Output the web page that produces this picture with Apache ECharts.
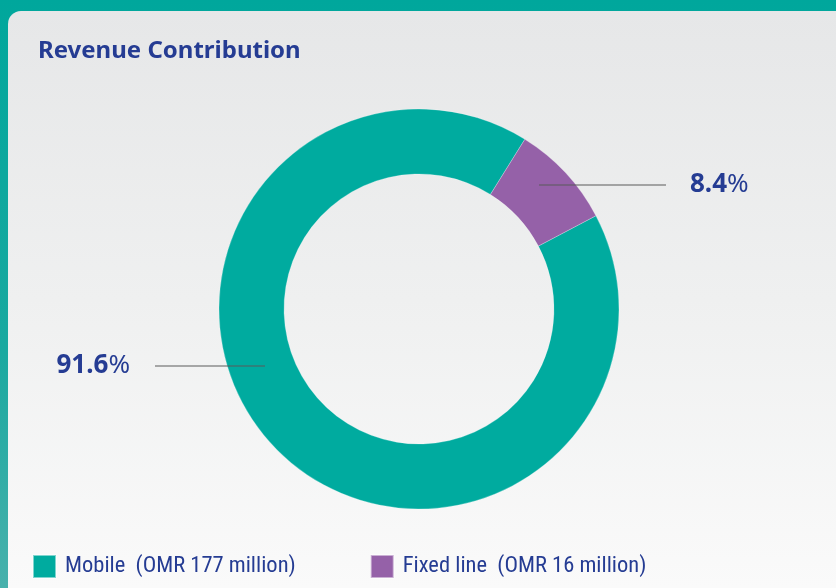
<!DOCTYPE html>
<html>
<head>
<meta charset="utf-8">
<script src="https://cdn.jsdelivr.net/npm/echarts@6/dist/echarts.min.js"></script>
<style>
  html, body { margin: 0; padding: 0; width: 836px; height: 588px; overflow: hidden; }
  body { background: linear-gradient(to bottom, #00a79c 0%, #1aa9a0 60%, #48b1ac 100%); position: relative; }
  #card { position: absolute; left: 8px; top: 11px; right: 0; bottom: 0;
          border-top-left-radius: 13px;
          background: linear-gradient(to bottom, #e6e7e8 0%, #eff0f0 50%, #fafafa 100%); }
  #chart { position: absolute; left: 0; top: 0; width: 836px; height: 588px; }
</style>
</head>
<body>
<div id="card"></div>
<div id="chart"></div>
<script>
const titleText = 'Revenue Contribution';
const categories = ['Mobile', 'Fixed line'];
const shares = [91.6, 8.4];
const legendLabels = ['Mobile  (OMR 177 million)', 'Fixed line  (OMR 16 million)'];
const colors = ['#00ab9f', '#9561a8'];

const textBlue = '#253c93';
const fontFam = '"Noto Sans", "Open Sans", sans-serif';

const chart = echarts.init(document.getElementById('chart'), null, { renderer: 'canvas' });

const data = categories.map((c, i) => ({
  name: legendLabels[i],
  value: shares[i],
  itemStyle: { color: colors[i] }
}));
const overlayData = categories.map((c, i) => ({
  name: legendLabels[i],
  value: shares[i],
  itemStyle: { color: 'rgba(0,0,0,0)' }
}));

const pieCenter = [419, 309];
const pieRadius = [135, 200];
const pieStart = 90 - 62.2;

chart.setOption({
  backgroundColor: 'transparent',
  animation: false,
  title: {
    text: titleText,
    left: 33,
    top: 34,
    textStyle: { color: textBlue, fontSize: 24, fontWeight: 'bold', fontFamily: fontFam }
  },
  legend: {
    left: 27,
    top: 549,
    itemWidth: 23,
    itemHeight: 23,
    itemGap: 74,
    icon: 'rect',
    data: legendLabels.map((n, i) => ({ name: n, itemStyle: { color: colors[i] } })),
    textStyle: { color: textBlue, fontSize: 22.5, fontFamily: '"Liberation Sans Narrow", "Roboto Condensed", "Noto Sans", sans-serif', padding: [0, 0, 0, 4] },
    selectedMode: false
  },
  series: [{
    type: 'pie',
    z: 2,
    center: pieCenter,
    radius: pieRadius,
    startAngle: pieStart,
    clockwise: true,
    avoidLabelOverlap: false,
    emphasis: { disabled: true },
    itemStyle: { borderColor: 'rgba(255,255,255,0.5)', borderWidth: 0.5 },
    label: { show: false },
    labelLine: { show: false },
    data: data
  }, {
    type: 'pie',
    z: 5,
    silent: true,
    center: pieCenter,
    radius: pieRadius,
    startAngle: pieStart,
    clockwise: true,
    avoidLabelOverlap: false,
    emphasis: { disabled: true },
    itemStyle: { borderWidth: 0 },
    label: {
      show: true,
      position: 'outside',
      formatter: function (p) {
        return '{b|' + p.value.toFixed(1) + '}{p|%}';
      },
      rich: {
        b: { fontSize: 26, fontWeight: 'bold', color: textBlue, fontFamily: fontFam },
        p: { fontSize: 26, fontWeight: 'normal', color: textBlue, fontFamily: fontFam }
      }
    },
    labelLine: {
      show: true,
      length: 10,
      length2: 10,
      lineStyle: { color: '#5a5a5a', width: 1.2 }
    },
    labelLayout: function (params) {
      if (params.dataIndex === 1) {
        return { x: 690, y: 185, align: 'left', verticalAlign: 'middle',
                 labelLinePoints: [[539, 185], [602, 185], [666, 185]] };
      }
      return { x: 130, y: 366, align: 'right', verticalAlign: 'middle',
               labelLinePoints: [[265, 366], [210, 366], [155, 366]] };
    },
    data: overlayData
  }]
});
</script>
</body>
</html>
